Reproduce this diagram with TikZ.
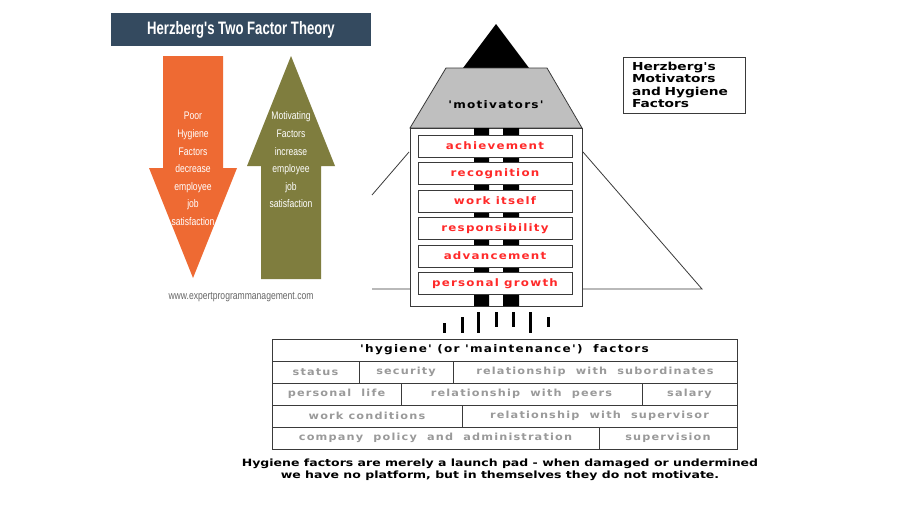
\documentclass[tikz,border=0pt]{standalone}
\usepackage{fontspec}
\setmainfont{DejaVu Sans}
\newfontfamily\narrowsf[FakeStretch=0.78]{Liberation Sans}
\newfontfamily\titlesf[FakeStretch=0.73]{Liberation Sans Bold}
\newfontfamily\capfont[FakeStretch=1.25]{DejaVu Sans Bold}
\newfontfamily\vboldsp[FakeStretch=1.15,LetterSpace=12]{DejaVu Sans Bold}
\usetikzlibrary{positioning}
\definecolor{banner}{HTML}{344A5F}
\definecolor{downorange}{HTML}{EE6A33}
\definecolor{upolive}{HTML}{7F7D3E}
\definecolor{motred}{HTML}{FF2A2A}
\definecolor{hyggray}{HTML}{9A9A9A}
\definecolor{edge}{HTML}{3A3A3A}

\begin{document}
\begin{tikzpicture}[x=1pt, y=-1pt, every node/.style={inner sep=0pt, outer sep=0pt}, arrowtext/.style={text=white, align=center, font=\narrowsf\fontsize{11}{17.6}\selectfont}, motbox/.style={draw=edge, fill=white, line width=0.8pt, minimum width=154pt, minimum height=22pt, text=motred, font=\vboldsp\fontsize{10.3}{12}\selectfont}, cell/.style={draw=edge, line width=0.8pt, minimum height=22pt, anchor=north west, text=hyggray, font=\vboldsp\fontsize{9.8}{11}\selectfont}]
	\useasboundingbox[fill=white] (0,0) rectangle (900,506);
	\node[fill=banner, minimum width=260pt, minimum height=33pt, text=white, font=\titlesf\fontsize{18}{20}\selectfont] (title) at (241,29.5) {Herzberg's Two Factor Theory};
	\fill[downorange] (163,56) -- (223,56) -- (223,168) -- (237,168) -- (193,278) -- (149,168) -- (163,168) -- cycle;
	\fill[upolive] (291,56) -- (335,166) -- (321,166) -- (321,279) -- (261,279) -- (261,166) -- (247,166) -- cycle;
	\node[arrowtext] (poor) at (193,169) {Poor\\Hygiene\\Factors\\decrease\\employee\\job\\satisfaction};
	\node[arrowtext] (motiv) at (291,160) {Motivating\\Factors\\increase\\employee\\job\\satisfaction};
	\node[text=black!60, font=\narrowsf\fontsize{11}{13}\selectfont] (site) at (241,297) {www.expertprogrammanagement.com};
	\draw[edge, line width=0.8pt] (409,152) -- (372,195) (372,289) -- (410,289) (583,152) -- (702,289) -- (582,289);
	\fill[black] (496,24) -- (529,68) -- (463,68) -- cycle;
	\filldraw[fill=black!25, draw=edge, line width=0.8pt] (446,68) -- (547,68) -- (582,128) -- (410,128) -- cycle;
	\node[font=\vboldsp\fontsize{10.5}{12}\selectfont] (mot) at (496,105) {'motivators'};
	\filldraw[fill=white, draw=edge, line width=0.8pt] (410,128) rectangle (582,306);
	\fill[black] (474,128) rectangle (489,306) (503,128) rectangle (519,306);
	\node[motbox] (ach) at (495,146) {achievement};
	\node[motbox, below=5.5pt of ach] (rec) {recognition};
	\node[motbox, below=5.5pt of rec] (work) {work itself};
	\node[motbox, below=5.5pt of work] (resp) {responsibility};
	\node[motbox, below=5.5pt of resp] (adv) {advancement};
	\node[motbox, below=5.5pt of adv] (grow) {personal growth};
	\foreach \x/\a/\b in {444/323/333, 462/317/333, 478/312/333, 496/312/327, 513/312/327, 530/312/333, 548/317/327}
		\draw[line width=3pt] (\x,\a) -- (\x,\b);
	\node[cell, minimum width=465pt, text=black, font=\vboldsp\fontsize{10.5}{12}\selectfont] (hyg) at (272,339) {'hygiene' (or 'maintenance')\ \ factors};
	\node[cell, minimum width=87pt] (status) at (hyg.south west) {status};
	\node[cell, minimum width=94pt] (secur) at (status.north east) {security};
	\node[cell, minimum width=284pt] (subord) at (secur.north east) {relationship\ \ with\ \ subordinates};
	\node[cell, minimum width=129pt] (life) at (status.south west) {personal\ \ life};
	\node[cell, minimum width=241pt] (peers) at (life.north east) {relationship\ \ with\ \ peers};
	\node[cell, minimum width=95pt] (salary) at (peers.north east) {salary};
	\node[cell, minimum width=190pt] (cond) at (life.south west) {work conditions};
	\node[cell, minimum width=275pt] (superv) at (cond.north east) {relationship\ \ with\ \ supervisor};
	\node[cell, minimum width=327pt] (policy) at (cond.south west) {company\ \ policy\ \ and\ \ administration};
	\node[cell, minimum width=138pt] (supvis) at (policy.north east) {supervision};
	\node[draw=edge, line width=0.8pt, anchor=north west, text width=104pt, minimum height=56pt, inner xsep=9pt, align=left, font=\capfont\fontsize{11}{12.3}\selectfont] (key) at (623,57) {Herzberg's\\Motivators\\and Hygiene\\Factors};
	\node[align=center, font=\capfont\fontsize{10}{12}\selectfont] (launch) at (500,470) {Hygiene factors are merely a launch pad - when damaged or undermined\\we have no platform, but in themselves they do not motivate.};
\end{tikzpicture}
\end{document}
